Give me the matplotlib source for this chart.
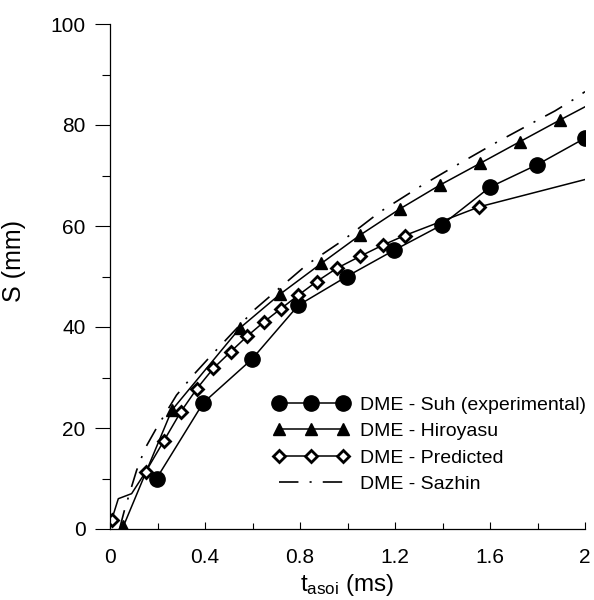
import matplotlib
matplotlib.use("Agg")
import matplotlib.pyplot as plt
from matplotlib.ticker import MultipleLocator

plt.rcParams['font.family'] = ['Liberation Sans', 'DejaVu Sans']
plt.rcParams['mathtext.fontset'] = 'custom'
plt.rcParams['mathtext.rm'] = 'Liberation Sans'
plt.rcParams['mathtext.it'] = 'Liberation Sans:italic'
plt.rcParams['lines.scale_dashes'] = False

# Data
suh_t = [0.196, 0.393, 0.597, 0.793, 0.997, 1.196, 1.397, 1.600, 1.797, 2.0]
suh_s = [10.0, 25.0, 33.6, 44.3, 50.0, 55.2, 60.2, 67.7, 72.1, 77.4]

hiro_t = [0.056, 0.26, 0.547, 0.716, 0.89, 1.053, 1.221, 1.389, 1.558, 1.726, 1.895, 2.0]
hiro_s = [0.5, 23.5, 39.8, 46.5, 52.6, 58.2, 63.4, 68.1, 72.4, 76.7, 81.0, 83.6]
hiro_marks = list(range(11))

pred_t = [0.007, 0.035, 0.091, 0.150, 0.226, 0.298, 0.366, 0.435, 0.508, 0.578,
          0.648, 0.719, 0.793, 0.870, 0.954, 1.053, 1.148, 1.240, 1.555, 2.0]
pred_s = [1.8, 6.0, 7.0, 11.3, 17.4, 23.2, 27.8, 31.8, 35.1, 38.2,
          41.0, 43.6, 46.3, 49.0, 51.6, 54.0, 56.2, 58.1, 63.8, 69.2]
pred_marks = [0] + list(range(3, 19))

saz_t = [0.04, 0.063, 0.112, 0.147, 0.196, 0.28, 0.351, 0.421, 0.547, 0.61, 0.716,
         0.828, 0.982, 1.137, 1.305, 1.45, 1.621, 1.79, 1.874, 1.95, 2.0]
saz_s = [0.0, 4.1, 11.6, 15.9, 20.0, 26.5, 30.5, 34.1, 40.4, 43.5, 47.8,
         52.3, 57.2, 62.8, 67.8, 71.8, 76.4, 80.7, 82.8, 85.0, 86.6]

x_ticks = [0, 0.4, 0.8, 1.2, 1.6, 2.0]
x_ticklabels = ['0', '0.4', '0.8', '1.2', '1.6', '2']
labels = ["DME - Suh (experimental)", "DME - Hiroyasu", "DME - Predicted", "DME - Sazhin"]

fig = plt.figure(figsize=(5.94, 6.0), dpi=100)
ax = fig.add_axes([110/594, 71/600, 475/594, 505/600])

ax.plot(suh_t, suh_s, color='black', lw=1.1, marker='o', ms=11, label=labels[0])
ax.plot(hiro_t, hiro_s, color='black', lw=1.1, marker='^', ms=8.5,
        markevery=hiro_marks, label=labels[1])
ax.plot(pred_t, pred_s, color='black', lw=1.1, marker='D', ms=6, mfc='white',
        mec='black', mew=2.0, markevery=pred_marks, label=labels[2])
ax.plot(saz_t, saz_s, color='black', lw=1.2, dashes=(14, 8, 1.5, 8), label=labels[3])

ax.set_xlim(0, 2)
ax.set_ylim(0, 100)
ax.spines['top'].set_visible(False)
ax.spines['right'].set_visible(False)
ax.spines['left'].set_linewidth(0.9)
ax.spines['bottom'].set_linewidth(0.9)

ax.set_xticks(x_ticks)
ax.set_xticklabels(x_ticklabels)
ax.xaxis.set_minor_locator(MultipleLocator(0.2))
ax.yaxis.set_major_locator(MultipleLocator(20))
ax.yaxis.set_minor_locator(MultipleLocator(10))
ax.tick_params(axis='x', which='major', direction='in', length=5, width=0.8, labelsize=15, pad=13.5)
ax.tick_params(axis='x', which='minor', direction='in', length=4, width=0.8)
ax.tick_params(axis='y', which='major', direction='out', length=10.5, width=0.8, labelsize=15, pad=7)
ax.tick_params(axis='y', which='minor', direction='out', length=5.5, width=0.8)

ax.set_ylabel('S (mm)', fontsize=18)
ax.yaxis.set_label_coords((26 - 110) / 475, (529 - 261) / 505)
ax.set_xlabel(r't$_{\mathrm{asoi}}$ (ms)', fontsize=17.5, labelpad=3.5)

leg = ax.legend(loc='upper left', bbox_to_anchor=((273-110)/475, (529-396)/505),
                frameon=False, borderpad=0, borderaxespad=0, numpoints=3,
                handlelength=3.9, handletextpad=0.6, labelspacing=0.46, fontsize=14)

fig.savefig('out.png', dpi=100)
